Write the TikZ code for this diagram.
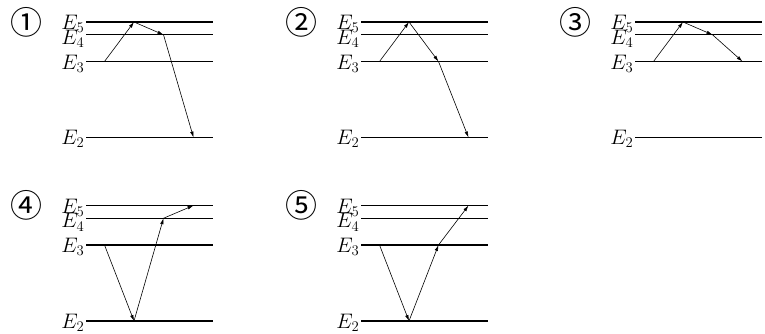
\RequirePackage{fix-cm}
\documentclass[tikz,border=0pt]{standalone}
\usepackage{fontspec}
\usepackage{tikz}
\usetikzlibrary{arrows.meta,calc}
\newfontfamily\cjk{Noto Sans CJK SC}

\begin{document}
\begin{tikzpicture}[
  x=1pt, y=-1pt,
  level/.style={line width=1.4pt},
  lab/.style={anchor=east,inner sep=0pt,font=\fontsize{21}{21}\selectfont},
  num/.style={font=\cjk\fontsize{32}{32}\selectfont,inner sep=0pt},
  arr/.style={-{Latex[length=6pt,width=3.5pt]},line width=0.6pt}
]
  \useasboundingbox (0,0) rectangle (765,334);
  % panels: number / x of the level lines / y of E5 / mark
  \foreach \p/\x/\y/\m in {1/86/22/①,2/361/22/②,3/635/22/③,4/86/205.5/④,5/361/205.5/⑤}{
    \node[num] (n\p) at (\x-59.5,\y) {\m};
    \foreach \l/\dy/\s in {5/0/2,4/12.75/4,3/39.5/2,2/115.5/1.5}{
      \coordinate (\p-\l-w) at (\x,\y+\dy);
      \coordinate (\p-\l-e) at (\x+127,\y+\dy);
      \draw[level] (\p-\l-w) -- (\p-\l-e);
      \node[lab] (\p-E\l) at (\x-1.5,\y+\dy+\s) {$E_\l$};
      \foreach \c/\dx in {a/18.5,b/48,c/77.5,d/107.5}
        \coordinate (\p-\l-\c) at (\x+\dx,\y+\dy);
    }
  }
  % transitions
  \draw[arr] (1-3-a) -- (1-5-b);
  \draw[arr] (1-5-b) -- (1-4-c);
  \draw[arr] (1-4-c) -- (1-2-d);
  \draw[arr] (2-3-a) -- (2-5-b);
  \draw[arr] (2-5-b) -- (2-3-c);
  \draw[arr] (2-3-c) -- (2-2-d);
  \draw[arr] (3-3-a) -- (3-5-b);
  \draw[arr] (3-5-b) -- (3-4-c);
  \draw[arr] (3-4-c) -- (3-3-d);
  \draw[arr] (4-3-a) -- (4-2-b);
  \draw[arr] (4-2-b) -- (4-4-c);
  \draw[arr] (4-4-c) -- (4-5-d);
  \draw[arr] (5-3-a) -- (5-2-b);
  \draw[arr] (5-2-b) -- (5-3-c);
  \draw[arr] (5-3-c) -- (5-5-d);
\end{tikzpicture}
\end{document}
